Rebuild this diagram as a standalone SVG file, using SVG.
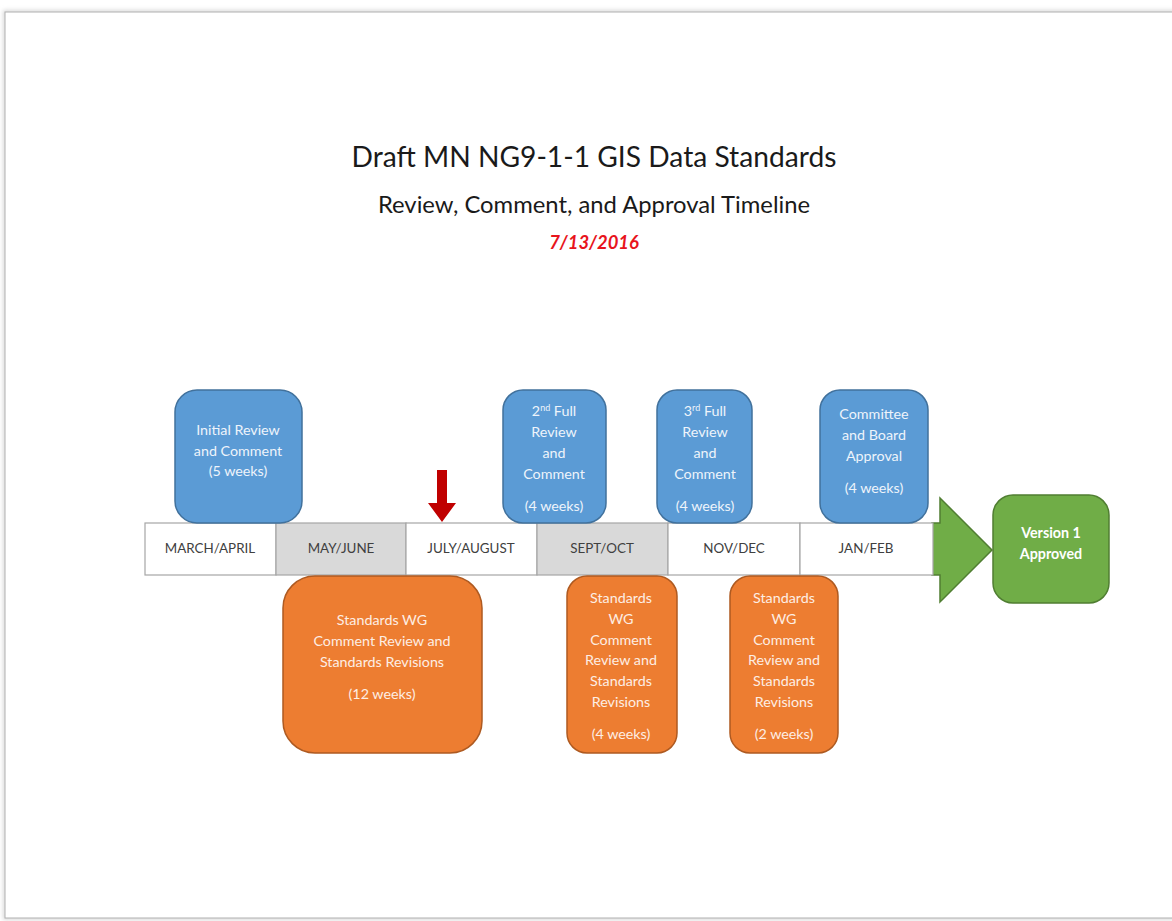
<svg xmlns="http://www.w3.org/2000/svg" width="1172" height="921" viewBox="0 0 1172 921">
<style>
.blue{fill:#5b9bd5;stroke:#41719c;stroke-width:1.5}
.orange{fill:#ed7d31;stroke:#ae5a21;stroke-width:1.5}
.green{fill:#70ad47;stroke:#507e32;stroke-width:1.5}
.seg{stroke:#a6a6a6;stroke-width:1.2}
.bt{font-family:Lato,"Open Sans",sans-serif;font-size:14.3px;fill:#eef4fb;text-anchor:middle}
.mt{font-family:Lato,"Open Sans",sans-serif;font-size:13.4px;fill:#404040;text-anchor:middle}
.sup{font-size:9px}
</style>
<defs>
<filter id="sh" x="-5%" y="-5%" width="110%" height="110%">
<feGaussianBlur stdDeviation="2"/>
</filter>
</defs>
<rect x="0" y="0" width="1172" height="921" fill="#ffffff"/>
<rect x="5" y="12" width="1180" height="906" fill="none" stroke="#cccccc" stroke-width="3" filter="url(#sh)"/>
<rect x="5" y="12" width="1180" height="906" fill="#ffffff" stroke="#b0b0b0" stroke-width="1"/>

<g id="title">
<text x="594" y="167" font-family="Lato,'Open Sans',sans-serif" font-size="28.2" fill="#1a1a1a" text-anchor="middle">Draft MN NG9-1-1 GIS Data Standards</text>
<text x="594" y="213" font-family="Lato,'Open Sans',sans-serif" font-size="23.8" fill="#1a1a1a" text-anchor="middle">Review, Comment, and Approval Timeline</text>
<text x="594" y="249" font-family="Lato,'Open Sans',sans-serif" font-size="18.4" font-weight="bold" font-style="italic" fill="#e8141c" text-anchor="middle">7/13/2016</text>
</g>

<g id="timeline">
<path d="M932,523 L940,523 L940,498 L992,550 L940,602 L940,575 L932,575 Z" class="green"/>
<rect x="145" y="523" width="131" height="52" fill="#ffffff" class="seg"/>
<rect x="276" y="523" width="130" height="52" fill="#d9d9d9" class="seg"/>
<rect x="406" y="523" width="131" height="52" fill="#ffffff" class="seg"/>
<rect x="537" y="523" width="131" height="52" fill="#d9d9d9" class="seg"/>
<rect x="668" y="523" width="132" height="52" fill="#ffffff" class="seg"/>
<rect x="800" y="523" width="133" height="52" fill="#ffffff" class="seg"/>
<text x="210" y="553" class="mt">MARCH/APRIL</text>
<text x="341" y="553" class="mt">MAY/JUNE</text>
<text x="471" y="553" class="mt">JULY/AUGUST</text>
<text x="602" y="553" class="mt">SEPT/OCT</text>
<text x="734" y="553" class="mt">NOV/DEC</text>
<text x="866" y="553" class="mt">JAN/FEB</text>
</g>

<g id="marker-arrow">
<path d="M437,470 L447,470 L447,503 L456,503 L442,522 L428,503 L437,503 Z" fill="#c00000"/>
</g>

<g id="initial-review">
<rect x="175" y="390" width="127" height="133" rx="22" class="blue"/>
<text class="bt"><tspan x="238" y="435">Initial Review</tspan><tspan x="238" y="456">and Comment</tspan><tspan x="238" y="476">(5 weeks)</tspan></text>
</g>

<g id="second-review">
<rect x="503" y="390" width="103" height="133" rx="20" class="blue"/>
<text class="bt"><tspan x="554" y="416">2<tspan class="sup" dy="-5">nd</tspan><tspan dy="5"> Full</tspan></tspan><tspan x="554" y="437">Review</tspan><tspan x="554" y="458">and</tspan><tspan x="554" y="479">Comment</tspan><tspan x="554" y="511">(4 weeks)</tspan></text>
</g>

<g id="third-review">
<rect x="657" y="390" width="95" height="133" rx="20" class="blue"/>
<text class="bt"><tspan x="705" y="416">3<tspan class="sup" dy="-5">rd</tspan><tspan dy="5"> Full</tspan></tspan><tspan x="705" y="437">Review</tspan><tspan x="705" y="458">and</tspan><tspan x="705" y="479">Comment</tspan><tspan x="705" y="511">(4 weeks)</tspan></text>
</g>

<g id="committee">
<rect x="820" y="390" width="108" height="133" rx="20" class="blue"/>
<text class="bt"><tspan x="874" y="419">Committee</tspan><tspan x="874" y="440">and Board</tspan><tspan x="874" y="461">Approval</tspan><tspan x="874" y="493">(4 weeks)</tspan></text>
</g>

<g id="version1">
<rect x="993" y="495" width="116" height="108" rx="20" class="green"/>
<text class="bt" font-weight="bold" style="fill:#ffffff"><tspan x="1051" y="538">Version 1</tspan><tspan x="1051" y="559">Approved</tspan></text>
</g>

<g id="wg-12">
<rect x="283" y="576" width="199" height="177" rx="32" class="orange"/>
<text class="bt" style="fill:#fdeee4"><tspan x="382" y="625">Standards WG</tspan><tspan x="382" y="646">Comment Review and</tspan><tspan x="382" y="667">Standards Revisions</tspan><tspan x="382" y="699">(12 weeks)</tspan></text>
</g>

<g id="wg-4">
<rect x="567" y="576" width="110" height="177" rx="20" class="orange"/>
<text class="bt" style="fill:#fdeee4"><tspan x="621" y="603">Standards</tspan><tspan x="621" y="624">WG</tspan><tspan x="621" y="645">Comment</tspan><tspan x="621" y="665">Review and</tspan><tspan x="621" y="686">Standards</tspan><tspan x="621" y="707">Revisions</tspan><tspan x="621" y="739">(4 weeks)</tspan></text>
</g>

<g id="wg-2">
<rect x="730" y="576" width="108" height="177" rx="20" class="orange"/>
<text class="bt" style="fill:#fdeee4"><tspan x="784" y="603">Standards</tspan><tspan x="784" y="624">WG</tspan><tspan x="784" y="645">Comment</tspan><tspan x="784" y="665">Review and</tspan><tspan x="784" y="686">Standards</tspan><tspan x="784" y="707">Revisions</tspan><tspan x="784" y="739">(2 weeks)</tspan></text>
</g>
</svg>
